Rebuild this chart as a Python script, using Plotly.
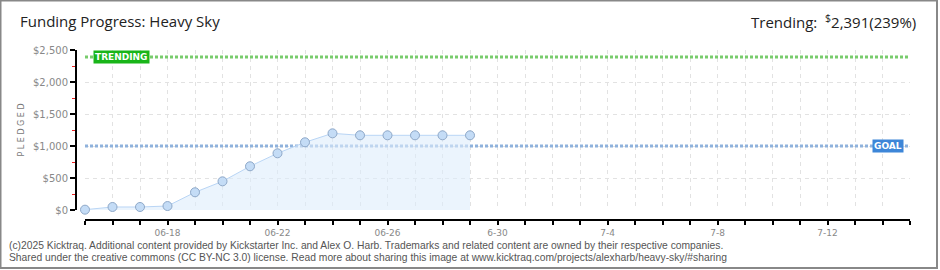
import plotly.graph_objects as go

# ---- data ----
dates = ["2025-06-15", "2025-06-16", "2025-06-17", "2025-06-18", "2025-06-19",
         "2025-06-20", "2025-06-21", "2025-06-22", "2025-06-23", "2025-06-24",
         "2025-06-25", "2025-06-26", "2025-06-27", "2025-06-28", "2025-06-29"]
pledged = [5, 47, 47, 62, 277, 448, 683, 886, 1058, 1198, 1167, 1167, 1167, 1167, 1167]

tick_dates = ["2025-06-%02d" % d for d in range(15, 31)] + ["2025-07-%02d" % d for d in range(1, 16)]
tick_labels = ["", "", "", "06-18", "", "", "", "06-22", "", "", "", "06-26", "", "", "", "6-30",
               "", "", "", "7-4", "", "", "", "7-8", "", "", "", "7-12", "", "", ""]
x_range = ["2025-06-15", "2025-07-15"]

y_ticks = [0, 500, 1000, 1500, 2000, 2500]
y_labels = ["$0", "$500", "$1,000", "$1,500", "$2,000", "$2,500"]

goal = 1000
trending = 2391
title = "Funding Progress: Heavy Sky"
trend_text = "Trending:  <sup>$</sup>2,391(239%)"
footer1 = ("(c)2025 Kicktraq. Additional content provided by Kickstarter Inc. and Alex O. Harb. "
           "Trademarks and related content are owned by their respective companies.")
footer2 = ("Shared under the creative commons (CC BY-NC 3.0) license. Read more about sharing this "
           "image at www.kicktraq.com/projects/alexharb/heavy-sky/#sharing")

# ---- layout geometry ----
W, H = 940, 270
L, R, T, B = 76, 30, 50, 50
PW, PH = W - L - R, H - T - B


def px(xp):
    return (xp - L) / PW


def py(yp):
    return (H - B - yp) / PH


fig = go.Figure()

# goal and trending lines
fig.add_trace(go.Scatter(x=x_range, y=[goal, goal], mode="lines",
                         line=dict(color="#8fb2dc", width=3, dash="3px,2px"),
                         hoverinfo="skip", showlegend=False))
fig.add_trace(go.Scatter(x=x_range, y=[trending, trending], mode="lines",
                         line=dict(color="#78cc6c", width=3, dash="3px,2px"),
                         hoverinfo="skip", showlegend=False))

fig.add_trace(go.Scatter(
    x=dates, y=pledged, mode="lines+markers", cliponaxis=False,
    line=dict(color="#b9d5f5", width=1),
    fill="tozeroy", fillcolor="rgba(222,236,251,0.6)",
    marker=dict(size=9, color="#c4dcf6", line=dict(color="#8ea8c8", width=1)),
    hoverinfo="skip", showlegend=False))

axfont = dict(family="DejaVu Sans", size=10, color="#888888")

fig.update_layout(
    width=W, height=H,
    margin=dict(l=L, r=R, t=T, b=B),
    paper_bgcolor="white", plot_bgcolor="white",
    title=dict(text=title, x=20 / W, xanchor="left", y=1 - 22 / H, yanchor="middle",
               font=dict(family="Open Sans", size=15, color="#222222")),
    xaxis=dict(
        type="date", range=x_range, domain=[px(85), 1],
        anchor="free", position=0,
        tickvals=tick_dates, ticktext=tick_labels,
        showgrid=True, gridcolor="#e2e2e2", griddash="4px,4px", gridwidth=1,
        showline=True, linecolor="black", linewidth=2,
        ticks="outside", ticklen=4, tickcolor="black", tickwidth=2,
        tickfont=dict(family="DejaVu Sans", size=9, color="#888888"),
        zeroline=False, fixedrange=True),
    yaxis=dict(
        range=[0, 2500], domain=[py(210), 1],
        anchor="free", position=0,
        tickvals=y_ticks, ticktext=y_labels,
        showgrid=True, gridcolor="#e2e2e2", griddash="4px,4px", gridwidth=1,
        showline=True, linecolor="black", linewidth=2,
        ticks="outside", ticklen=5, tickcolor="black", tickwidth=2,
        minor=dict(dtick=250, ticks="outside", ticklen=3, tickcolor="#ee2222", tickwidth=1,
                   showgrid=False),
        tickfont=axfont, zeroline=False, fixedrange=True,
        title=dict(text="P L E D G E D", standoff=6,
                   font=dict(family="DejaVu Sans", size=8, color="#777777"))),
)

# labels on goal/trending lines
fig.add_annotation(x=px(93), y=trending, xref="paper", yref="y", xanchor="left", yanchor="middle",
                   text="<b>TRENDING</b>", showarrow=False, bgcolor="#19b519",
                   font=dict(family="DejaVu Sans", size=9, color="white"), borderpad=1)
fig.add_annotation(x=px(904), y=goal, xref="paper", yref="y", xanchor="right", yanchor="middle",
                   text="<b>GOAL</b>", showarrow=False, bgcolor="#3d86d8",
                   font=dict(family="DejaVu Sans", size=9, color="white"), borderpad=1)

# top right trending text
fig.add_annotation(x=px(918), y=py(22), xref="paper", yref="paper", xanchor="right", yanchor="middle",
                   text=trend_text, showarrow=False,
                   font=dict(family="Open Sans", size=15, color="#222222"))

# footer
for txt, yy in [(footer1, 245), (footer2, 257)]:
    fig.add_annotation(x=px(8), y=py(yy), xref="paper", yref="paper", xanchor="left", yanchor="middle",
                       text=txt, showarrow=False, borderpad=0,
                       font=dict(family="Liberation Sans", size=10.3, color="#555555"))

# outer border
fig.add_shape(type="rect", xref="paper", yref="paper",
              x0=px(0.5), x1=px(937), y0=py(268), y1=py(0.5),
              line=dict(color="#888888", width=2), fillcolor="rgba(0,0,0,0)", layer="above")

fig.write_html("out.html")
